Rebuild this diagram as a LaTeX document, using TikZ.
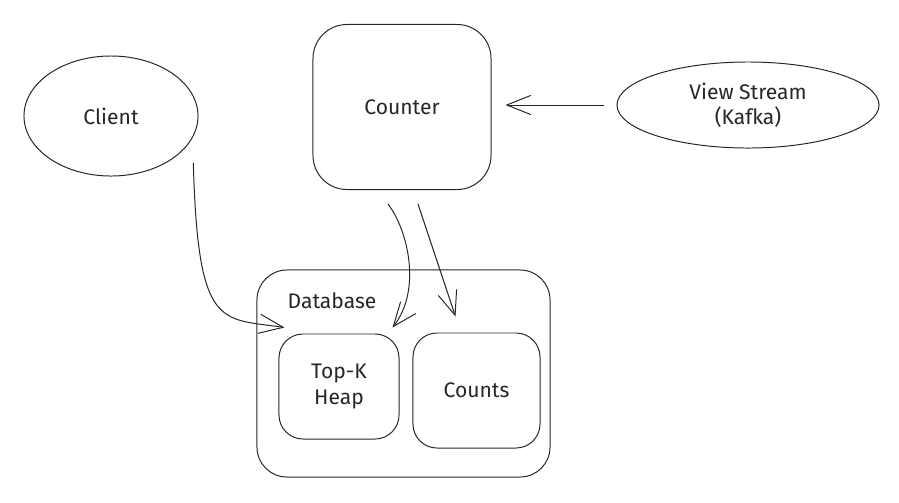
\documentclass[tikz,border=0pt]{standalone}
\usepackage{fontspec}
\setmainfont{Fira Sans}
\usepackage{tikz}
\usetikzlibrary{shapes.geometric, arrows.meta, positioning}

\begin{document}
\begin{tikzpicture}
  [
    x=0.025cm, y=-0.025cm,
    every node/.style={font=\fontsize{15}{18}\selectfont, text=black!85},
    Oval/.style={ellipse, draw=black!85, line width=0.7pt},
    Box/.style={rectangle, draw=black!85, line width=0.7pt, align=center},
    Tag/.style={inner sep=0pt},
    Link/.style={-{Straight Barb[length=0.6cm, width=0.48cm]}, draw=black!85, line width=0.7pt}
  ]
  \useasboundingbox (0,0) rectangle (899,502);

  % Nodes
  \node[Oval, minimum width=4.35cm, minimum height=3cm] (client) at (111,116) {Client};
  \node[Box, rounded corners=0.85cm, minimum width=4.45cm, minimum height=4.125cm] (counter) at (402,107) {Counter};
  \node[Oval, minimum width=6.55cm, minimum height=2.15cm, align=center] (view) at (748,105) {View Stream\\(Kafka)};
  \node[Box, rounded corners=0.75cm, minimum width=7.325cm, minimum height=5.175cm] (db) at (403.5,373.5) {};
  \node[Tag] (dblabel) at (332,301) {Database};
  \node[Box, rounded corners=0.6cm, minimum width=3cm, minimum height=2.625cm] (topk) at (339,386.5) {Top-K\\Heap};
  \node[Box, rounded corners=0.6cm, minimum width=3.175cm, minimum height=2.875cm] (counts) at (476.5,390.5) {Counts};

  % Lines
  \path [Link, shorten <=0.62cm] (client.-15) .. controls (198,330) and (220,318) .. ([shift={(6,-6)}]topk.north west);
  \path [Link] ([shift={(-14,14)}]counter.south) .. controls (408,230) and (422,290) .. ([shift={(-7,-6)}]topk.north east);
  \path [Link] ([shift={(16,14)}]counter.south) -- ([shift={(-21,-16)}]counts.north);
  \path [Link, shorten <=0.3cm, shorten >=0.35cm] (view.west) -- (view.west -| counter.east);

\end{tikzpicture}
\end{document}
